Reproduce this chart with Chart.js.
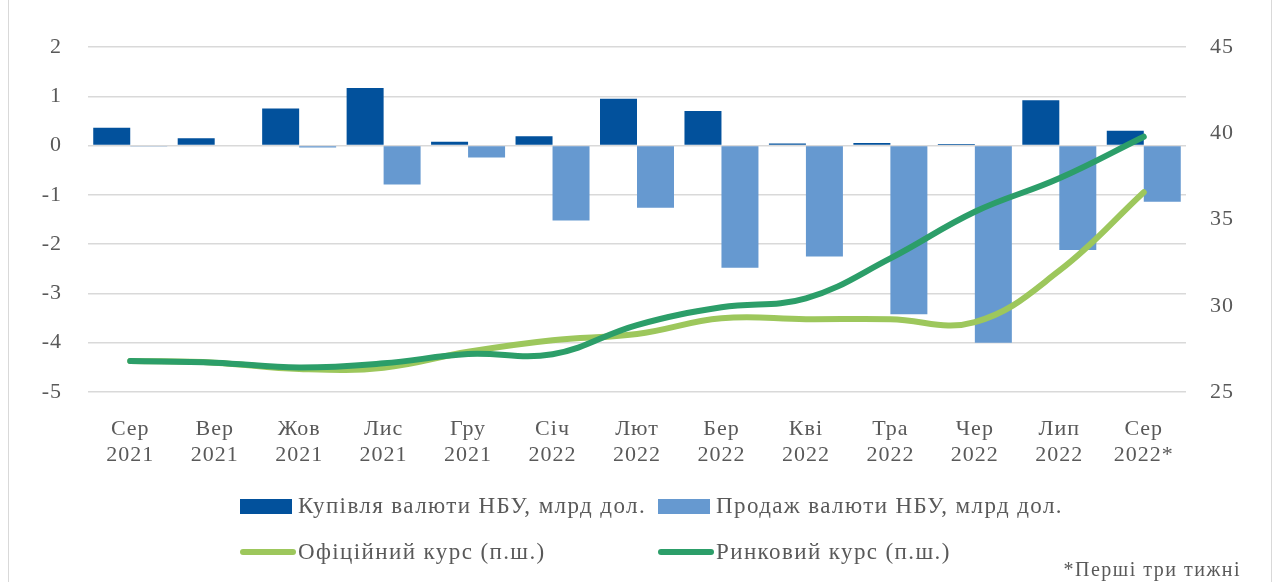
<!DOCTYPE html>
<html>
<head>
<meta charset="utf-8">
<script src="https://cdn.jsdelivr.net/npm/chart.js@4.4.0/dist/chart.umd.min.js"></script>
<style>
  html,body{margin:0;padding:0;background:#fff;}
  body{width:1279px;height:582px;position:relative;overflow:hidden;font-family:"Liberation Serif",serif;color:#595959;}
  #wrap{position:absolute;left:0;top:0;width:1279px;height:582px;}
  .frame{position:absolute;top:0;bottom:0;width:1px;background:#D9D9D9;}
  .leg{position:absolute;font-size:23px;line-height:24px;letter-spacing:1.4px;white-space:nowrap;display:flex;align-items:center;}
  .leg .mk{display:inline-block;margin-right:6px;}
  #note{position:absolute;right:38px;top:558px;font-size:20px;letter-spacing:1.5px;white-space:nowrap;}
</style>
</head>
<body>
<div class="frame" style="left:8px"></div>
<div class="frame" style="left:1271px"></div>
<div id="wrap"><canvas id="c" width="1279" height="582"></canvas></div>
<div id="legend"></div>
<div id="note">*Перші три тижні</div>
<script>
const months = [["Сер","2021"],["Вер","2021"],["Жов","2021"],["Лис","2021"],["Гру","2021"],["Січ","2022"],["Лют","2022"],["Бер","2022"],["Кві","2022"],["Тра","2022"],["Чер","2022"],["Лип","2022"],["Сер","2022*"]];
const buyNBU  = [0.36, 0.15, 0.75, 1.17, 0.08, 0.19, 0.95, 0.70, 0.04, 0.05, 0.03, 0.92, 0.30];
const sellNBU = [-0.01, 0, -0.04, -0.79, -0.24, -1.52, -1.26, -2.48, -2.25, -3.42, -4.0, -2.12, -1.14];
const officialRate = [26.8, 26.7, 26.33, 26.41, 27.33, 28.0, 28.36, 29.27, 29.22, 29.22, 29.05, 32.03, 36.58];
const marketRate   = [26.8, 26.7, 26.42, 26.66, 27.2, 27.19, 28.88, 29.91, 30.43, 32.75, 35.45, 37.39, 39.8];
const seriesNames = ["Купівля валюти НБУ, млрд дол.", "Продаж валюти НБУ, млрд дол.", "Офіційний курс (п.ш.)", "Ринковий курс (п.ш.)"];

const C_BUY = "#02519C", C_SELL = "#6699D0", C_OFF = "#9DC75C", C_MKT = "#2C9E69";
const tickFont = {family:"Liberation Serif", size:22};

const spacingPlugin = {
  id:"spacing",
  beforeDraw(chart){ try { chart.ctx.letterSpacing = "1px"; } catch(e){} }
};

const chart = new Chart(document.getElementById("c"), {
  plugins:[spacingPlugin],
  data: {
    labels: months,
    datasets: [
      {type:"bar", label:seriesNames[0], data:buyNBU, backgroundColor:C_BUY, yAxisID:"y", order:3,
       categoryPercentage:0.876, barPercentage:1.0},
      {type:"bar", label:seriesNames[1], data:sellNBU, backgroundColor:C_SELL, yAxisID:"y", order:3,
       categoryPercentage:0.876, barPercentage:1.0},
      {type:"line", label:seriesNames[2], data:officialRate, borderColor:C_OFF, backgroundColor:C_OFF, yAxisID:"y2", order:2,
       borderWidth:6, pointRadius:0, tension:0.4, borderCapStyle:"round", borderJoinStyle:"round", fill:false},
      {type:"line", label:seriesNames[3], data:marketRate, borderColor:C_MKT, backgroundColor:C_MKT, yAxisID:"y2", order:1,
       borderWidth:6, pointRadius:0, tension:0.4, borderCapStyle:"round", borderJoinStyle:"round", fill:false}
    ]
  },
  options: {
    responsive:false, animation:false, devicePixelRatio:1,
    layout:{padding:{left:0, right:0, top:47, bottom:100}},
    plugins:{legend:{display:false}, tooltip:{enabled:false}},
    scales:{
      x:{
        grid:{display:false, drawTicks:false}, border:{display:false},
        ticks:{font:tickFont, color:"#595959", padding:24, maxRotation:0, autoSkip:false},
        afterFit:(s)=>{s.height = 90;}
      },
      y:{
        position:"left", min:-5, max:2,
        ticks:{stepSize:1, font:tickFont, color:"#595959", padding:26},
        grid:{color:"#D9D9D9", lineWidth:1.5, drawTicks:false}, border:{display:false},
        afterFit:(s)=>{s.width = 88;}
      },
      y2:{
        position:"right", min:25, max:45,
        ticks:{stepSize:5, font:tickFont, color:"#595959", padding:24},
        grid:{display:false, drawTicks:false}, border:{display:false},
        afterFit:(s)=>{s.width = 93;}
      }
    }
  }
});

// HTML legend built from the chart's datasets
const legendPos = [[240,494],[658,494],[240,540],[658,540]];
const legEl = document.getElementById("legend");
chart.data.datasets.forEach((ds,i)=>{
  const d = document.createElement("div");
  d.className = "leg";
  d.style.left = legendPos[i][0]+"px";
  d.style.top = legendPos[i][1]+"px";
  const m = document.createElement("span");
  m.className = "mk";
  if (ds.type === "bar") {
    m.style.width="52px"; m.style.height="15px"; m.style.background=ds.backgroundColor;
  } else {
    m.style.width="56px"; m.style.height="6px"; m.style.borderRadius="3px"; m.style.background=ds.borderColor;
    m.style.marginRight="2px";
  }
  const t = document.createElement("span");
  t.textContent = ds.label;
  d.appendChild(m); d.appendChild(t);
  legEl.appendChild(d);
});
</script>
</body>
</html>
